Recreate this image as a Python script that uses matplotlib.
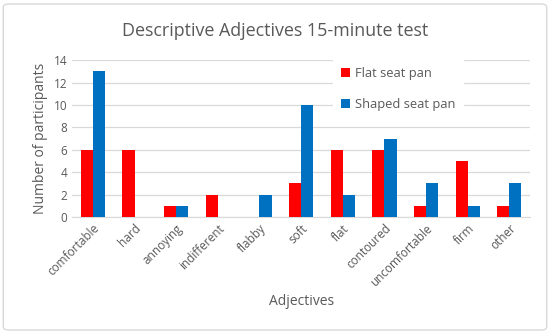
import matplotlib.pyplot as plt
import numpy as np
from matplotlib.patches import FancyBboxPatch

categories = ['comfortable', 'hard', 'annoying', 'indifferent', 'flabby', 'soft',
              'flat', 'contoured', 'uncomfortable', 'firm', 'other']
flat_pan = [6, 6, 1, 2, 0, 3, 6, 6, 1, 5, 1]
shaped_pan = [13, 0, 1, 0, 2, 10, 2, 7, 3, 1, 3]

plt.rcParams['font.family'] = ['Open Sans', 'DejaVu Sans']
txt = '#595959'

fig = plt.figure(figsize=(5.5, 3.34), dpi=100)
ax = fig.add_axes([0.131, 0.350, 0.833, 0.470])

x = np.arange(len(categories))
w = 0.29
ax.bar(x - w / 2, flat_pan, w, color='#FF0000', label='Flat seat pan', zorder=3)
ax.bar(x + w / 2, shaped_pan, w, color='#0070C0', label='Shaped seat pan', zorder=3)

ax.set_xlim(-0.5, len(categories) - 0.5)
ax.set_ylim(0, 14)
ax.set_yticks(range(0, 15, 2))
ax.yaxis.grid(True, color='#D9D9D9', linewidth=0.9, zorder=0)
ax.set_axisbelow(True)
for s in ['top', 'right', 'left']:
    ax.spines[s].set_visible(False)
ax.spines['bottom'].set_color('#D9D9D9')
ax.tick_params(length=0, colors=txt, labelsize=8.5)
ax.set_xticks(x)
ax.set_xticklabels(categories, rotation=45, ha='right', rotation_mode='anchor')

ax.set_ylabel('Number of participants', color=txt, fontsize=10)
ax.set_xlabel('Adjectives', color=txt, fontsize=10, labelpad=4)
fig.suptitle('Descriptive Adjectives 15-minute test', color=txt, fontsize=12.9, y=0.935)

leg = ax.legend(loc='upper left', bbox_to_anchor=(0.555, 1.045), frameon=True,
                fontsize=9.3, handlelength=0.7, handleheight=0.7, labelspacing=1.35,
                handletextpad=0.4, borderpad=0.6, fancybox=False)
leg.get_frame().set_edgecolor('white')
leg.get_frame().set_facecolor('white')
leg.get_frame().set_alpha(1)
for t in leg.get_texts():
    t.set_color(txt)

border = FancyBboxPatch((0.006, 0.012), 0.988, 0.976, transform=fig.transFigure,
                        boxstyle='round,pad=0,rounding_size=0.01',
                        facecolor='none', edgecolor='#D9D9D9', linewidth=1)
fig.patches.append(border)

fig.savefig('out.png', dpi=100)
